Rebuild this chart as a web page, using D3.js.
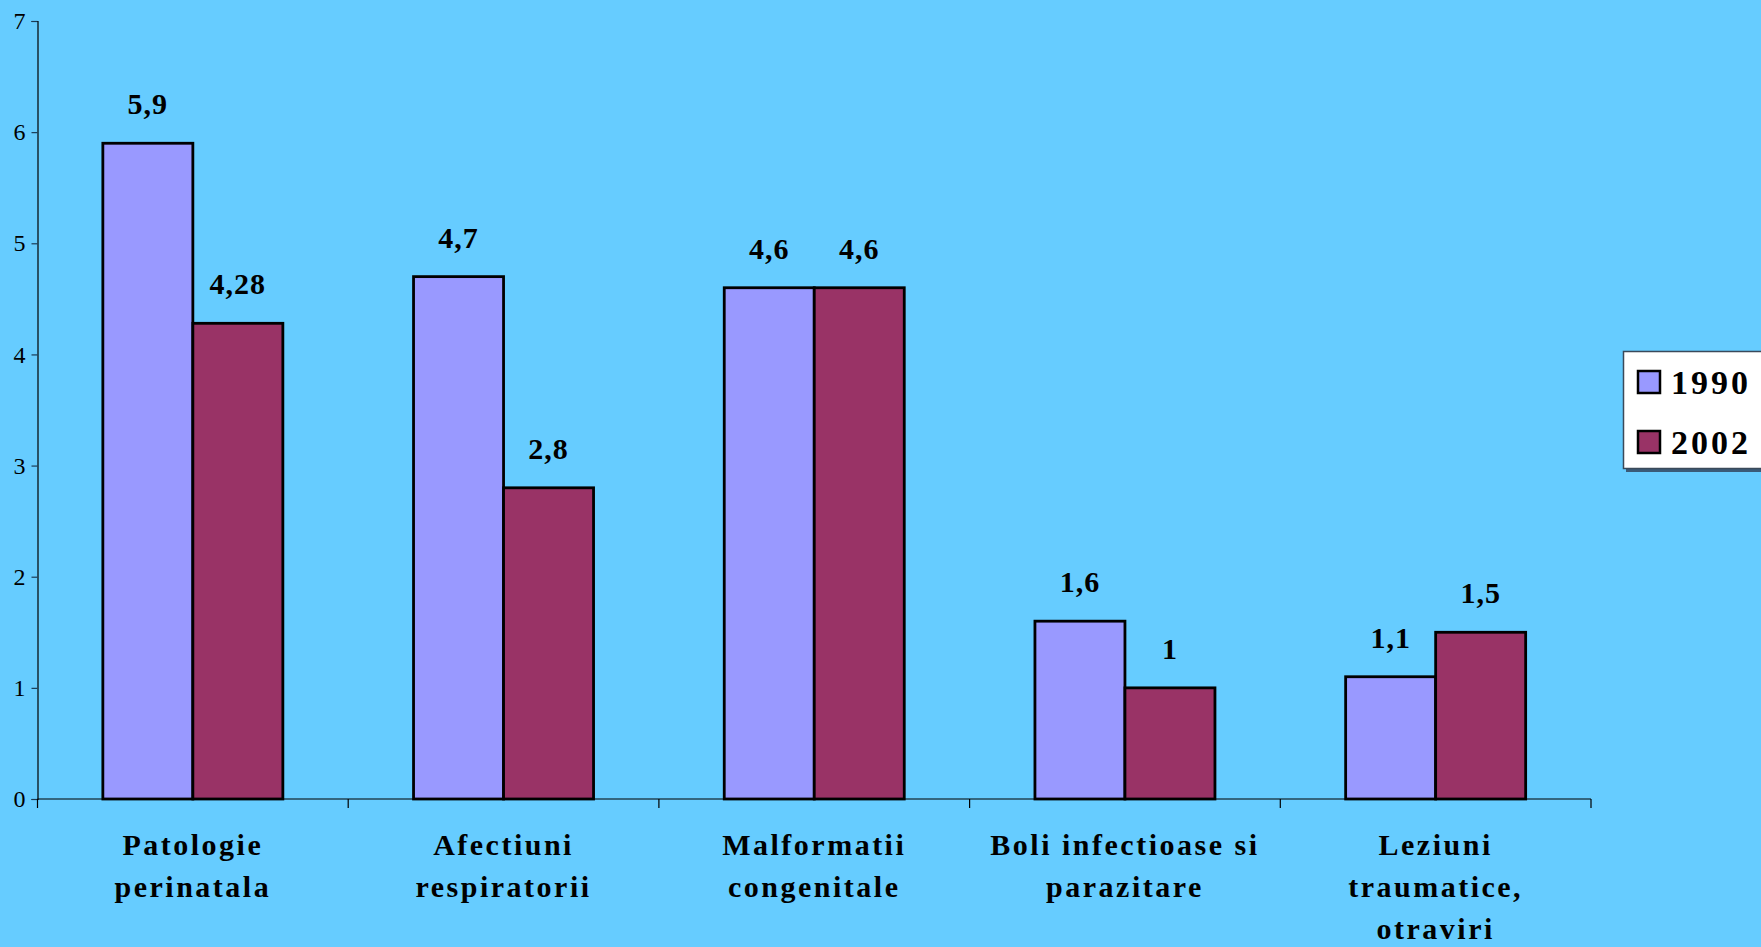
<!DOCTYPE html>
<html>
<head>
<meta charset="utf-8">
<script src="https://cdn.jsdelivr.net/npm/d3@7"></script>
<style>
  html, body { margin: 0; padding: 0; background: #66CCFF; overflow: hidden; }
  svg { display: block; }
</style>
</head>
<body>
<script>
// Causes of infant mortality, 1990 vs 2002
const categories = [
  ["Patologie", "perinatala"],
  ["Afectiuni", "respiratorii"],
  ["Malformatii", "congenitale"],
  ["Boli infectioase si", "parazitare"],
  ["Leziuni", "traumatice,", "otraviri"]
];
const seriesNames = ["1990", "2002"];
const values1990 = [5.9, 4.7, 4.6, 1.6, 1.1];
const values2002 = [4.28, 2.8, 4.6, 1, 1.5];
const valueLabels1990 = ["5,9", "4,7", "4,6", "1,6", "1,1"];
const valueLabels2002 = ["4,28", "2,8", "4,6", "1", "1,5"];
const yTicks = [0, 1, 2, 3, 4, 5, 6, 7];
const colors = ["#9999FF", "#993366"];

const W = 1761, H = 947;
const plotLeft = 37.5, plotRight = 1591, plotTop = 21, plotBottom = 799;

const svg = d3.select("body").append("svg")
  .attr("width", W).attr("height", H)
  .style("font-family", "'Liberation Serif', 'Times New Roman', serif");

svg.append("rect").attr("width", W).attr("height", H).attr("fill", "#66CCFF");

const x = d3.scaleBand().domain(d3.range(categories.length)).range([plotLeft, plotRight]).paddingInner(0).paddingOuter(0);
const xs = d3.scaleBand().domain([0, 1]).range([0, x.bandwidth()]).paddingInner(0).paddingOuter(0.726);
const y = d3.scaleLinear().domain([0, 7]).range([plotBottom, plotTop]);

// y axis
const yAxis = svg.append("g").attr("transform", `translate(${plotLeft},0)`)
  .call(d3.axisLeft(y).tickValues(yTicks).tickSize(6).tickPadding(6).tickFormat(d3.format("d")));
yAxis.select(".domain").attr("stroke", "#000").attr("stroke-width", 1.2);
yAxis.selectAll(".tick line").attr("stroke", "#1a3a55").attr("stroke-width", 1.2);
yAxis.selectAll(".tick text").attr("font-size", 24).attr("fill", "#000")
  .attr("font-family", "'Liberation Serif', serif");

// bars
const data = categories.map((c, i) => ({ i, vals: [values1990[i], values2002[i]], labels: [valueLabels1990[i], valueLabels2002[i]] }));
const groups = svg.append("g").selectAll("g").data(data).join("g")
  .attr("transform", d => `translate(${x(d.i)},0)`);

groups.selectAll("rect").data(d => d.vals.map((v, k) => ({ v, k })))
  .join("rect")
  .attr("x", d => xs(d.k))
  .attr("y", d => y(d.v))
  .attr("width", xs.bandwidth())
  .attr("height", d => y(0) - y(d.v))
  .attr("fill", d => colors[d.k])
  .attr("stroke", "#000")
  .attr("stroke-width", 2.8);

groups.selectAll("text.val").data(d => d.vals.map((v, k) => ({ v, k, label: d.labels[k] })))
  .join("text").attr("class", "val")
  .attr("x", d => xs(d.k) + xs.bandwidth() / 2)
  .attr("y", d => y(d.v) - 29)
  .attr("text-anchor", "middle")
  .attr("font-size", 30)
  .attr("font-weight", "bold")
  .attr("letter-spacing", 1)
  .text(d => d.label);

// x axis
const xAxis = svg.append("g").attr("transform", `translate(0,${plotBottom})`);
xAxis.append("line").attr("x1", plotLeft).attr("x2", plotRight).attr("stroke", "#000").attr("stroke-width", 1.2);
const boundaries = d3.range(categories.length + 1).map(i => plotLeft + i * x.bandwidth());
xAxis.selectAll("line.tick").data(boundaries).join("line").attr("class", "tick")
  .attr("x1", d => d).attr("x2", d => d).attr("y1", 0).attr("y2", 9)
  .attr("stroke", "#000").attr("stroke-width", 1.2);

const catLabels = svg.append("g").selectAll("text").data(categories).join("text")
  .attr("x", (d, i) => x(i) + x.bandwidth() / 2)
  .attr("y", plotBottom + 56)
  .attr("text-anchor", "middle")
  .attr("font-size", 30)
  .attr("font-weight", "bold")
  .attr("letter-spacing", 2.5);
catLabels.selectAll("tspan").data(d => d).join("tspan")
  .attr("x", function () { return d3.select(this.parentNode).attr("x"); })
  .attr("dy", (d, j) => j === 0 ? 0 : 42)
  .text(d => d);

// legend
const legend = svg.append("g");
legend.append("rect").attr("x", 1626).attr("y", 354).attr("width", 150).attr("height", 118).attr("fill", "#3a5a78");
legend.append("rect").attr("x", 1623.5).attr("y", 351.5).attr("width", 150).attr("height", 117)
  .attr("fill", "#fff").attr("stroke", "#3a4a5a").attr("stroke-width", 1.5);
seriesNames.forEach((name, k) => {
  const cy = 382 + k * 60;
  legend.append("rect").attr("x", 1638).attr("y", cy - 11).attr("width", 22).attr("height", 22)
    .attr("fill", colors[k]).attr("stroke", "#000").attr("stroke-width", 2.5);
  legend.append("text").attr("x", 1671).attr("y", cy + 12)
    .attr("font-size", 34).attr("font-weight", "bold").attr("letter-spacing", 3)
    .text(name);
});
</script>
</body>
</html>
